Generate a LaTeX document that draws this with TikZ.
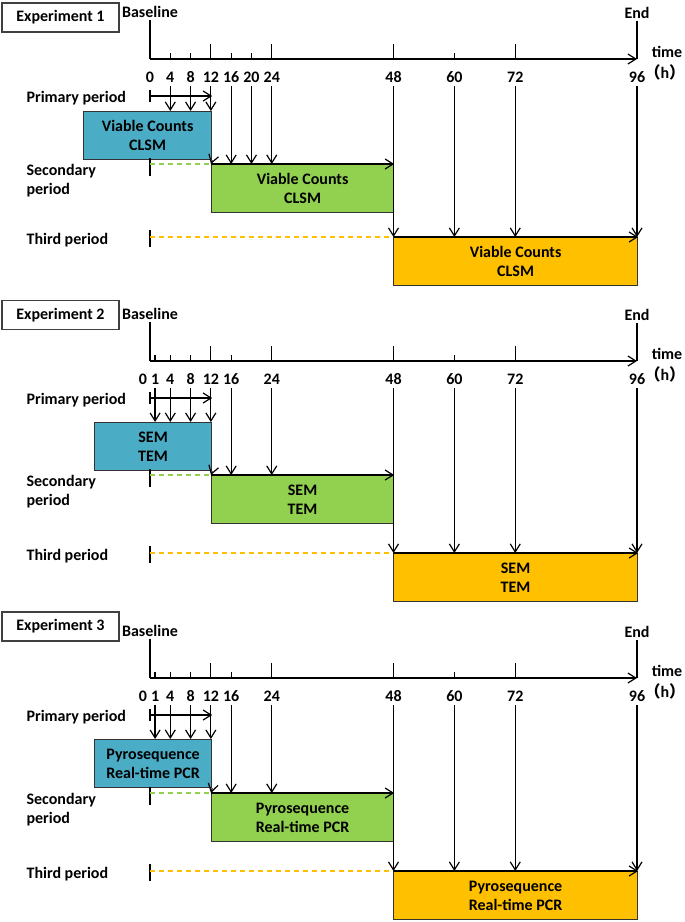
\documentclass[tikz,border=0pt]{standalone}
\usepackage{fontspec}
\setmainfont{Carlito}
\newfontfamily\cjk{Noto Sans CJK SC}
\usetikzlibrary{arrows.meta}
\definecolor{primblue}{HTML}{4BACC6}
\definecolor{secgreen}{HTML}{92D050}
\definecolor{thirdorange}{HTML}{FFC000}
\tikzset{
  lbl/.style={font=\fontsize{16}{19}\selectfont\bfseries, inner sep=2pt},
  num/.style={lbl, inner ysep=3pt},
  expbox/.style={lbl, draw=black!75, minimum width=117pt, minimum height=29pt},
  stage/.style={lbl, draw=black!80, minimum height=48pt, align=center},
  period line/.style={line width=1.3pt, dash pattern=on 5pt off 4pt}
}
\begin{document}
\begin{tikzpicture}[x=1pt,y=-1pt,line width=1.2pt,>={Straight Barb[length=8pt,width=10pt]}]
  \useasboundingbox (0,0) rectangle (685,922);
  \foreach \e/\ya/\yx/\xb/\xz/\yb/\yg/\yo/\pri/\sc/\txt in {
      1/59/17.5/83/150/111/164/237/{4,8}/{16,20}/{Viable Counts\\CLSM},
      2/361/315/94/143/422/475/553/{1,4,8}/{16}/{SEM\\TEM},
      3/678/626.5/94/143/739/793/871/{1,4,8}/{16}/{Pyrosequence\\Real-time PCR}}
  {
    % header and time axis
    \node[expbox] (exp\e) at (60.5,\yx) {Experiment \e};
    \node[lbl] (bl\e) at (150,\ya-47) {Baseline};
    \node[lbl] (en\e) at (637,\ya-46) {End};
    \coordinate (ax\e) at (150,\ya);
    \coordinate (az\e) at (637,\ya);
    \draw (bl\e.south) -- (ax\e);
    \draw (en\e.south) -- (az\e);
    \draw[->] (ax\e) -- (az\e);
    \node[lbl] (tm\e) at (667,\ya-7) {time};
    \node[lbl, anchor=west, inner sep=0pt] (hr\e) at (644,\ya+13) {{\cjk （}h\rlap{\cjk ）}};
    \edef\smalls{\pri,\sc,60}
    \foreach \t in \smalls {\draw ({150+5.073*\t},\ya) -- ++(0,-6);}
    \foreach \t in {12,24,48,72} {\draw ({150+5.073*\t},\ya) -- ++(0,-15);}
    \node[num] (n\e-0) at (\xz,\ya+18) {0};
    \edef\nlist{\pri,12,\sc,24,48,60,72,96}
    \foreach \t in \nlist {\node[num] (n\e-\t) at ({150+5.073*\t},\ya+18) {\t};}
    % stages
    \pgfmathsetmacro\bw{211-\xb}
    \node[stage, fill=primblue, minimum width=\bw pt, anchor=north west] (blue\e) at (\xb,\yb) {\txt};
    \node[stage, fill=secgreen, minimum width=182pt, anchor=north west] (green\e) at (211,\yg) {\txt};
    \node[stage, fill=thirdorange, minimum width=244pt, anchor=north west] (orange\e) at (393,\yo) {\txt};
    % sampling arrows
    \edef\blist{\pri,12}
    \foreach \t in \blist {\draw[->] (n\e-\t.south) -- (n\e-\t.south |- blue\e.north);}
    \draw[->] (blue\e.south east) -- (green\e.north west);
    \edef\glist{\sc,24}
    \foreach \t in \glist {\draw[->] (n\e-\t.south) -- (n\e-\t.south |- green\e.north);}
    \foreach \t in {48,60,72,96} {\draw[->] (n\e-\t.south) -- (n\e-\t.south |- orange\e.north);}
    \draw[->] (green\e.north west) -- (green\e.north east);
    \draw[->] (orange\e.north west) -- (orange\e.north east);
    % periods
    \node[lbl, anchor=west] (pp\e) at (24,\ya+39) {Primary period};
    \coordinate (ps\e) at (150,\ya+37);
    \draw ([yshift=6pt]ps\e) -- ([yshift=-6pt]ps\e);
    \draw[->] (ps\e) -- (ps\e -| blue\e.north east);
    \node[lbl, anchor=west, align=left] (sp\e) at (24,\yg+17) {Secondary\\period};
    \coordinate (ss\e) at (150,\yg);
    \draw ([yshift=6pt]ss\e) -- ([yshift=-12pt]ss\e);
    \draw[secgreen, period line] (ss\e) -- (green\e.north west);
    \node[lbl, anchor=west] (tp\e) at (24,\yo+3) {Third period};
    \coordinate (ts\e) at (150,\yo);
    \draw ([yshift=7pt]ts\e) -- ([yshift=-10pt]ts\e);
    \draw[thirdorange, period line] (ts\e) -- (orange\e.north west);
  }
\end{tikzpicture}
\end{document}
